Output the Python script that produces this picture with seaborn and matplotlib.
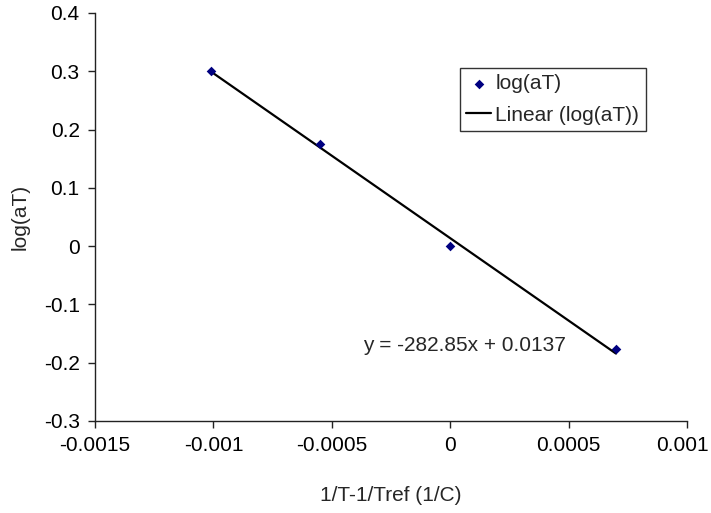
import numpy as np
import pandas as pd
import matplotlib
matplotlib.use("Agg")
import matplotlib.pyplot as plt
import matplotlib.transforms as mtransforms
import seaborn as sns

# Data
inv_t = [-0.00101, -0.00055, 0.0, 0.0007]
log_at = [0.301, 0.176, 0.0, -0.176]
x_ticks = [-0.0015, -0.001, -0.0005, 0.0, 0.0005, 0.001]
x_tick_labels = ["-0.0015", "-0.001", "-0.0005", "0", "0.0005", "0.001"]
y_ticks = [-0.3, -0.2, -0.1, 0.0, 0.1, 0.2, 0.3, 0.4]
y_tick_labels = ["-0.3", "-0.2", "-0.1", "0", "0.1", "0.2", "0.3", "0.4"]
fit_slope = -282.85
fit_intercept = 0.0137
equation = "y = -282.85x + 0.0137"

sns.set_style("white")
plt.rcParams['font.family'] = ['Liberation Sans', 'DejaVu Sans']

fig = plt.figure(figsize=(7.11, 5.13), dpi=100)
ax = fig.add_axes([95/711, 1-421/513, (687-95)/711, (421-13)/513])

df = pd.DataFrame({"x": inv_t, "y": log_at})
line_x = np.array([min(inv_t), max(inv_t)])
line_df = pd.DataFrame({"x": line_x, "y": fit_slope * line_x + fit_intercept})

sns.lineplot(data=line_df, x="x", y="y", ax=ax, color="black", linewidth=1.6,
             label="Linear (log(aT))", zorder=2)
sns.scatterplot(data=df, x="x", y="y", ax=ax, marker="D", s=24, color="#000080",
                edgecolor="#000080", linewidth=0, label="log(aT)", zorder=3)

ax.set_xlim(-0.0015, 0.001)
ax.set_ylim(-0.3, 0.4)
ax.set_xticks(x_ticks)
ax.set_xticklabels(x_tick_labels)
ax.set_yticks(y_ticks)
ax.set_yticklabels(y_tick_labels)
ax.tick_params(axis="both", direction="out", length=5, width=1, color="#222222",
               labelsize=15, labelcolor="black", pad=6, bottom=True, left=True)
# nudge the last x tick label so it stays inside the canvas
last = ax.get_xticklabels()[-1]
last.set_transform(last.get_transform() +
                   mtransforms.ScaledTranslation(-5/100, 0, fig.dpi_scale_trans))
for side in ["top", "right"]:
    ax.spines[side].set_visible(False)
for side in ["left", "bottom"]:
    ax.spines[side].set_color("#222222")
    ax.spines[side].set_linewidth(1)

ax.set_xlabel("1/T-1/Tref (1/C)", fontsize=15, labelpad=22)
ax.set_ylabel("log(aT)", fontsize=15, labelpad=10)

ax.text(-0.000367, -0.171, equation, fontsize=15, ha="left", va="center")

handles, labels = ax.get_legend_handles_labels()
order = [labels.index("log(aT)"), labels.index("Linear (log(aT))")]
leg = ax.legend([handles[i] for i in order], [labels[i] for i in order],
                loc="upper left", bbox_to_anchor=((460-95)/592, (421-68)/408),
                borderaxespad=0, fontsize=15, frameon=True, fancybox=False,
                edgecolor="black", handlelength=1.2, handletextpad=0.2,
                borderpad=0.3, labelspacing=0.6)
leg.get_frame().set_linewidth(1)

fig.savefig("out.png", dpi=100)
